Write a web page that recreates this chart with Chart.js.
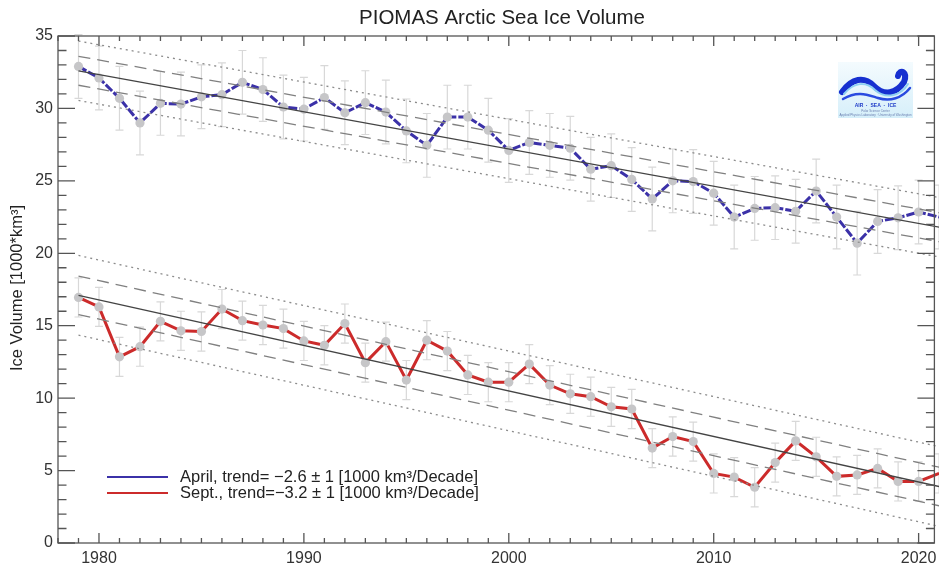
<!DOCTYPE html>
<html>
<head>
<meta charset="utf-8">
<script src="https://cdn.jsdelivr.net/npm/chart.js@4.4.1/dist/chart.umd.min.js"></script>
<style>
  html, body { margin: 0; padding: 0; background: #fff; overflow: hidden; }
</style>
</head>
<body>
<canvas id="ice" width="939" height="564"></canvas>
<script>
// years and ice volume (1000 km3)
const years = [1979, 1980, 1981, 1982, 1983, 1984, 1985, 1986, 1987, 1988,
  1989, 1990, 1991, 1992, 1993, 1994, 1995, 1996, 1997, 1998,
  1999, 2000, 2001, 2002, 2003, 2004, 2005, 2006, 2007, 2008,
  2009, 2010, 2011, 2012, 2013, 2014, 2015, 2016, 2017, 2018,
  2019, 2020, 2021];
const april = [32.9, 32.1, 30.7, 29.0, 30.35, 30.3, 30.8, 30.95, 31.8, 31.3,
  30.1, 29.95, 30.75, 29.7, 30.4, 29.75, 28.45, 27.45, 29.4, 29.4,
  28.5, 27.1, 27.65, 27.45, 27.25, 25.8, 26.05, 25.1, 23.75, 25.0,
  24.95, 24.15, 22.5, 23.1, 23.15, 22.9, 24.3, 22.5, 20.7, 22.2,
  22.45, 22.85, 22.5];
const sept = [16.95, 16.3, 12.85, 13.55, 15.3, 14.65, 14.6, 16.15, 15.35, 15.05,
  14.8, 13.95, 13.65, 15.15, 12.45, 13.9, 11.25, 14.0, 13.25, 11.6,
  11.1, 11.1, 12.35, 10.9, 10.3, 10.1, 9.4, 9.25, 6.55, 7.35,
  7.0, 4.8, 4.55, 3.85, 5.55, 7.05, 5.95, 4.6, 4.7, 5.15,
  4.25, 4.25, 4.8];
const aprilErr = 2.2;
const septErr = 1.35;

// trend lines: value at first and last year, plus 1 and 2 sigma band offsets
const trendYears = [1979, 2021];
const aprilTrend = [32.6, 21.8];
const septTrend = [17.1, 3.9];
const aprilBand = [1.0, 2.05];
const septBand = [1.33, 2.75];

const xTicks = [1980, 1990, 2000, 2010, 2020];
const yTicks = [0, 5, 10, 15, 20, 25, 30, 35];

const legendLabels = [
  'April, trend= \u22122.6 \u00b1 1 [1000 km\u00b3/Decade]',
  'Sept., trend=\u22123.2 \u00b1 1 [1000 km\u00b3/Decade]'
];

const FONT = 'Liberation Sans, Arial, Helvetica, sans-serif';
const BLUE = '#3b31a8';
const RED = '#cc2b2b';

function pts(vals) {
  return vals.map((v, i) => ({ x: years[i], y: v }));
}
function trend(ends, off) {
  return ends.map((v, i) => ({ x: trendYears[i], y: v + off }));
}

function refLine(data, dash, color) {
  return {
    data: data,
    borderColor: color,
    borderWidth: 1.3,
    borderDash: dash,
    pointRadius: 0,
    fill: false,
    clip: false
  };
}

const datasets = [];
[[aprilTrend, aprilBand], [septTrend, septBand]].forEach(([t, b]) => {
  datasets.push(refLine(trend(t, b[1]), [2, 4], '#8c8c8c'));
  datasets.push(refLine(trend(t, -b[1]), [2, 4], '#8c8c8c'));
  datasets.push(refLine(trend(t, b[0]), [12, 7], '#808080'));
  datasets.push(refLine(trend(t, -b[0]), [12, 7], '#808080'));
  datasets.push(refLine(trend(t, 0), [], '#444'));
});
datasets.push({
  data: pts(april), borderColor: BLUE, borderWidth: 3, borderDash: [9, 2],
  pointRadius: 4.6, pointBackgroundColor: '#c6c6c8', pointBorderWidth: 0,
  clip: false, errBar: aprilErr
});
datasets.push({
  data: pts(sept), borderColor: RED, borderWidth: 3,
  pointRadius: 4.6, pointBackgroundColor: '#c6c6c8', pointBorderWidth: 0,
  clip: false, errBar: septErr
});

// grey error bars behind the series
const errorBars = {
  id: 'errorBars',
  beforeDatasetsDraw(chart) {
    const { ctx, scales: { x, y } } = chart;
    ctx.save();
    ctx.strokeStyle = '#d8d8d8';
    ctx.lineWidth = 1.2;
    chart.data.datasets.forEach(ds => {
      if (!ds.errBar) return;
      ds.data.forEach(p => {
        const px = x.getPixelForValue(p.x);
        const top = y.getPixelForValue(p.y + ds.errBar);
        const bot = y.getPixelForValue(p.y - ds.errBar);
        ctx.beginPath();
        ctx.moveTo(px, top); ctx.lineTo(px, bot);
        ctx.moveTo(px - 4, top); ctx.lineTo(px + 4, top);
        ctx.moveTo(px - 4, bot); ctx.lineTo(px + 4, bot);
        ctx.stroke();
      });
    });
    ctx.restore();
  }
};

// IDL style box with inward ticks on all sides, title, axis title, legend, logo
const decor = {
  id: 'decor',
  afterDraw(chart) {
    const { ctx, chartArea: a, scales: { x, y } } = chart;
    ctx.save();
    ctx.strokeStyle = '#555';
    ctx.lineWidth = 1.3;
    ctx.strokeRect(a.left, a.top, a.right - a.left, a.bottom - a.top);

    ctx.beginPath();
    for (let yr = 1978; yr <= x.max; yr++) {
      const px = x.getPixelForValue(yr);
      const len = yr % 10 === 0 ? 10 : 5;
      ctx.moveTo(px, a.bottom); ctx.lineTo(px, a.bottom - len);
      ctx.moveTo(px, a.top); ctx.lineTo(px, a.top + len);
    }
    for (let v = 0; v <= 35; v++) {
      const py = y.getPixelForValue(v);
      const len = v % 5 === 0 ? 17 : 8.5;
      ctx.moveTo(a.left, py); ctx.lineTo(a.left + len, py);
      ctx.moveTo(a.right, py); ctx.lineTo(a.right - len, py);
    }
    ctx.stroke();

    // title
    ctx.fillStyle = '#222';
    ctx.font = '20.5px ' + FONT;
    ctx.textAlign = 'center';
    ctx.textBaseline = 'middle';
    ctx.fillText('PIOMAS Arctic Sea Ice Volume', 502, 18);

    // y axis title
    ctx.save();
    ctx.translate(17, 288);
    ctx.rotate(-Math.PI / 2);
    ctx.font = '16.5px ' + FONT;
    ctx.fillText('Ice Volume [1000*km\u00b3]', 0, 0);
    ctx.restore();

    // legend
    ctx.textAlign = 'left';
    ctx.font = '16.5px ' + FONT;
    [BLUE, RED].forEach((c, i) => {
      const ly = 477 + i * 16;
      ctx.strokeStyle = c;
      ctx.lineWidth = 2;
      ctx.beginPath();
      ctx.moveTo(107, ly); ctx.lineTo(168, ly);
      ctx.stroke();
      ctx.fillStyle = '#222';
      ctx.fillText(legendLabels[i], 180, ly);
    });

    drawLogo(ctx);
    ctx.restore();
  }
};

function drawLogo(ctx) {
  const L = 838, T = 62, W = 75, H = 56;
  const g = ctx.createLinearGradient(0, T, 0, T + H);
  g.addColorStop(0, '#f4fbfe');
  g.addColorStop(1, '#d6effa');
  ctx.fillStyle = g;
  ctx.fillRect(L, T, W, H);

  ctx.lineCap = 'round';
  ctx.strokeStyle = '#1630d0';
  ctx.lineWidth = 6;
  ctx.beginPath();
  ctx.moveTo(L + 4, T + 30);
  ctx.bezierCurveTo(L + 14, T + 16, L + 26, T + 14, L + 36, T + 24);
  ctx.bezierCurveTo(L + 46, T + 34, L + 58, T + 32, L + 66, T + 20);
  ctx.bezierCurveTo(L + 70, T + 10, L + 62, T + 6, L + 60, T + 14);
  ctx.stroke();
  ctx.strokeStyle = '#8fd0f2';
  ctx.lineWidth = 2;
  ctx.beginPath();
  ctx.moveTo(L + 6, T + 32);
  ctx.bezierCurveTo(L + 16, T + 20, L + 28, T + 19, L + 37, T + 28);
  ctx.bezierCurveTo(L + 47, T + 37, L + 62, T + 35, L + 70, T + 22);
  ctx.stroke();
  ctx.strokeStyle = '#2a4be0';
  ctx.lineWidth = 2.5;
  ctx.beginPath();
  ctx.moveTo(L + 5, T + 37);
  ctx.bezierCurveTo(L + 20, T + 28, L + 30, T + 33, L + 40, T + 36);
  ctx.bezierCurveTo(L + 52, T + 40, L + 64, T + 36, L + 72, T + 26);
  ctx.stroke();

  ctx.fillStyle = '#1f3cc8';
  ctx.textAlign = 'center';
  ctx.font = 'bold 5px ' + FONT;
  ctx.fillText('AIR  \u00b7  SEA  \u00b7  ICE', L + W / 2, T + 44);
  ctx.fillStyle = '#6a7fb0';
  ctx.font = '3px ' + FONT;
  ctx.fillText('Polar Science Center', L + W / 2, T + 49);
  ctx.fillText('Applied Physics Laboratory \u00b7 University of Washington', L + W / 2, T + 53);
}

new Chart(document.getElementById('ice'), {
  type: 'line',
  data: { datasets: datasets },
  options: {
    responsive: false,
    animation: false,
    layout: { padding: { top: 36, right: 2 } },
    plugins: { legend: { display: false }, tooltip: { enabled: false } },
    scales: {
      x: {
        type: 'linear', min: 1978, max: 2020.77,
        grid: { display: false, drawTicks: false },
        border: { display: false },
        ticks: {
          font: { family: FONT, size: 16 }, color: '#333', padding: 6,
          autoSkip: false, maxRotation: 0, callback: v => String(v)
        },
        afterBuildTicks: s => { s.ticks = xTicks.map(v => ({ value: v })); },
        afterFit: s => { s.height = 21; s.paddingRight = 0; s.paddingLeft = 0; }
      },
      y: {
        min: 0, max: 35,
        grid: { display: false, drawTicks: false },
        border: { display: false },
        ticks: { font: { family: FONT, size: 16 }, color: '#333', padding: 5 },
        afterBuildTicks: s => { s.ticks = yTicks.map(v => ({ value: v })); },
        afterFit: s => { s.width = 58; }
      }
    }
  },
  plugins: [errorBars, decor]
});
</script>
</body>
</html>
